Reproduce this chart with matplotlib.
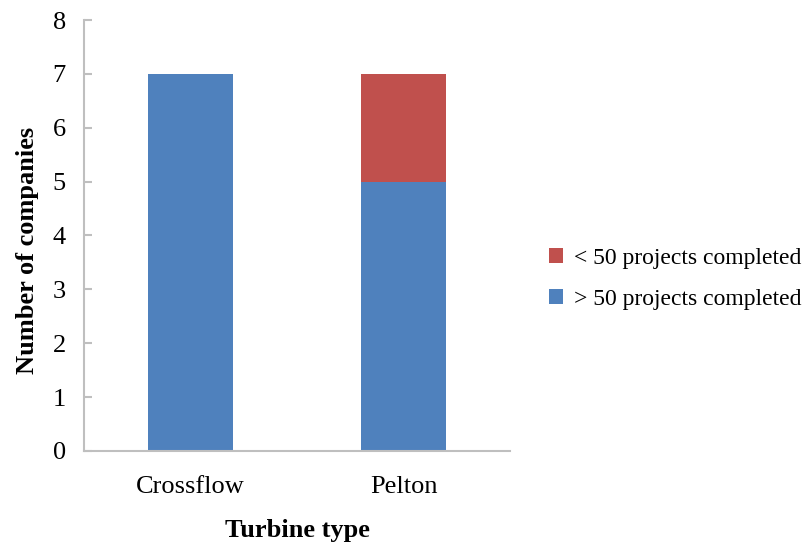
import matplotlib
matplotlib.use("Agg")
import matplotlib.pyplot as plt
import numpy as np

turbines = ["Crossflow", "Pelton"]
over_50 = [7, 5]
under_50 = [0, 2]

plt.rcParams["font.family"] = ["Liberation Serif", "DejaVu Serif"]

fig = plt.figure(figsize=(8.06, 5.42), dpi=100)
ax = fig.add_axes([0.104, 0.168, 0.529, 0.795])

x = np.arange(len(turbines))
ax.bar(x, over_50, width=0.4, color="#4F81BD", label="> 50 projects completed")
ax.bar(x, under_50, width=0.4, bottom=over_50, color="#C0504D",
       label="< 50 projects completed")

ax.set_xlim(-0.5, len(turbines) - 0.5)
ax.set_ylim(0, 8)
ax.set_yticks(range(0, 9))
ax.set_xticks(x)
ax.set_xticklabels(turbines)

for side in ["top", "right"]:
    ax.spines[side].set_visible(False)
for side in ["left", "bottom"]:
    ax.spines[side].set_color("#bfbfbf")
    ax.spines[side].set_linewidth(1.5)

ax.tick_params(axis="y", direction="in", length=6, width=1.5, color="#bfbfbf",
               labelsize=19, pad=13)
ax.tick_params(axis="x", length=0, labelsize=19, pad=18)

ax.set_ylabel("Number of companies", fontsize=19, fontweight="bold")
ax.yaxis.set_label_coords(-0.105, 0.465)
ax.set_xlabel("Turbine type", fontsize=19, fontweight="bold", labelpad=15)

handles, labels = ax.get_legend_handles_labels()
ax.legend(handles[::-1], labels[::-1], loc="center left",
          bbox_to_anchor=(1.04, 0.40), frameon=False, fontsize=17,
          handlelength=0.6, handleheight=0.6, handletextpad=0.5,
          labelspacing=0.85)

fig.savefig("out.png", dpi=100)
